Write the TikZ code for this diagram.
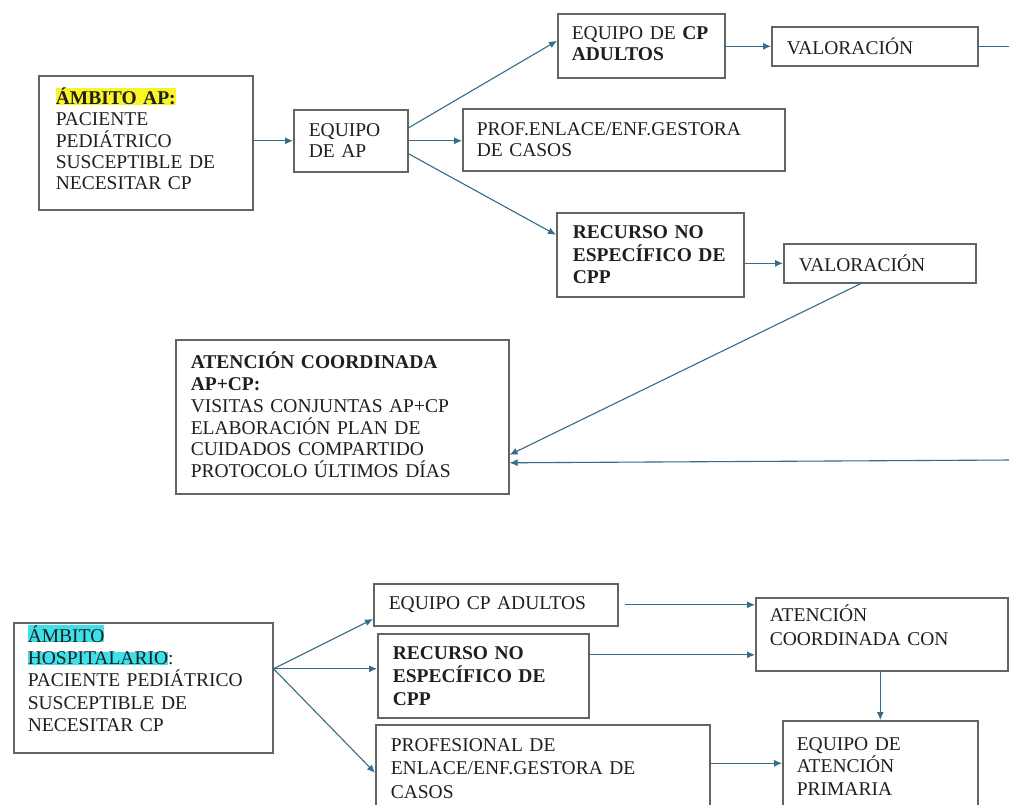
\documentclass[tikz,border=0pt]{standalone}
\usepackage{fontspec}
\setmainfont{Liberation Serif}
\usetikzlibrary{arrows.meta}
\definecolor{lnc}{RGB}{52,108,138}
\definecolor{bdc}{RGB}{100,100,100}
\definecolor{hly}{RGB}{250,245,40}
\definecolor{hlc}{RGB}{60,225,235}
\newcommand{\fs}[1]{\fontsize{19.5}{#1}\selectfont}
\begin{document}
\begin{tikzpicture}[x=1pt,y=-1pt,
  bx/.style={draw=bdc,line width=1.6pt,fill=white,rectangle,anchor=north west,align=left,inner sep=0pt,
    font=\fs{21.2},text=black!88},
  ar/.style={draw=lnc,line width=1.1pt,-{Latex[length=8pt,width=7pt]}},
  ln/.style={draw=lnc,line width=1.1pt}]
\clip (0,0) rectangle (1009,805);
\fill[white] (0,0) rectangle (1009,805);
\setlength{\fboxsep}{0pt}
% ---------------- top section
\node[bx,minimum width=214,minimum height=134,text width=180,text depth=93pt] (ap) at (38,75)
 {\colorbox{hly}{\textbf{ÁMBITO AP:}}\\PACIENTE\\PEDIÁTRICO\\SUSCEPTIBLE DE\\NECESITAR CP};
\node[bx,minimum width=114,minimum height=62,text width=84] (eap) at (293,109)
 {EQUIPO\\DE AP};
\node[bx,minimum width=167,minimum height=64,text width=139,text depth=25pt] (cpa) at (557,13)
 {\mbox{EQUIPO DE \textbf{CP}}\\\textbf{ADULTOS}};
\node[bx,minimum width=206,minimum height=39,text width=176] (val1) at (771,26)
 {VALORACIÓN};
\node[bx,minimum width=322,minimum height=62,text width=294] (prof) at (462,108)
 {\mbox{PROF.ENLACE/ENF.GESTORA}\\DE CASOS};
\node[bx,minimum width=187,minimum height=84,text width=155,font=\fs{22.5}] (rec) at (556,212)
 {\textbf{RECURSO NO}\\\textbf{\mbox{ESPECÍFICO DE}}\\\textbf{CPP}};
\node[bx,minimum width=192,minimum height=39,text width=162] (val2) at (783,243)
 {VALORACIÓN};
\node[bx,minimum width=333,minimum height=154,text width=303,font=\fs{21.8},text depth=113pt] (aco) at (175,339)
 {\textbf{ATENCIÓN COORDINADA}\\\textbf{AP+CP:}\\VISITAS CONJUNTAS AP+CP\\ELABORACIÓN PLAN DE\\CUIDADOS COMPARTIDO\\PROTOCOLO ÚLTIMOS DÍAS};
\coordinate (r2) at (1012,460);
\draw[ar] (ap.east |- eap.west) -- (eap.west);
\draw[ar] ([yshift=13pt]eap.east) -- ([yshift=5pt]cpa.west);
\draw[ar] (eap.east) -- (prof.west |- eap.east);
\draw[ar] ([yshift=-13pt]eap.east) -- ([yshift=20pt]rec.west);
\draw[ar] (cpa.east |- val1.west) -- (val1.west);
\draw[ln] (val1.east) -- ++(40,0);
\draw[ar] (rec.east |- val2.west) -- (val2.west);
\draw[ar] ([xshift=-19pt]val2.south) -- ([yshift=-38pt]aco.east);
\draw[ar] (r2) -- ([yshift=-46pt]aco.east);
% ---------------- bottom section
\node[bx,minimum width=259,minimum height=130,text width=231,font=\fs{22.3},text depth=108pt] (hos) at (13,622)
 {\colorbox{hlc}{ÁMBITO}\\\colorbox{hlc}{HOSPITALARIO}:\\PACIENTE PEDIÁTRICO\\SUSCEPTIBLE DE\\NECESITAR CP};
\node[bx,minimum width=244,minimum height=42,text width=214] (bcp) at (373,583)
 {EQUIPO CP ADULTOS};
\node[bx,minimum width=211,minimum height=84,text width=181,font=\fs{23}] (brec) at (377,633)
 {\textbf{RECURSO NO}\\\textbf{\mbox{ESPECÍFICO DE}}\\\textbf{CPP}};
\node[bx,minimum width=334,minimum height=87,text width=304,font=\fs{23.5}] (bprof) at (375,724)
 {PROFESIONAL DE\\ENLACE/ENF.GESTORA DE\\CASOS};
\node[bx,minimum width=252,minimum height=73,text width=224,font=\fs{24},text depth=42pt] (acc) at (755,597)
 {ATENCIÓN\\COORDINADA CON};
\node[bx,minimum width=195,minimum height=91,text width=167,font=\fs{22.5}] (eqap) at (782,720)
 {EQUIPO DE\\ATENCIÓN\\PRIMARIA};
\coordinate (hs) at ([yshift=19pt]hos.east);
\coordinate (b1) at ([xshift=6pt]bcp.east);
\coordinate (b2) at ([yshift=21pt]brec.east);
\coordinate (b3) at ([yshift=5pt]bprof.east);
\draw[ar] (hs) -- (bcp.west |- 0,619);
\draw[ar] (hs) -- (brec.west |- hs);
\draw[ar] (hs) -- ([yshift=-4.5pt]bprof.west);
\draw[ar] (b1) -- (acc.west |- b1);
\draw[ar] (b2) -- (acc.west |- b2);
\draw[ar] (acc.south -| eqap.north) -- (eqap.north);
\draw[ar] (b3) -- (eqap.west |- b3);
\end{tikzpicture}
\end{document}
